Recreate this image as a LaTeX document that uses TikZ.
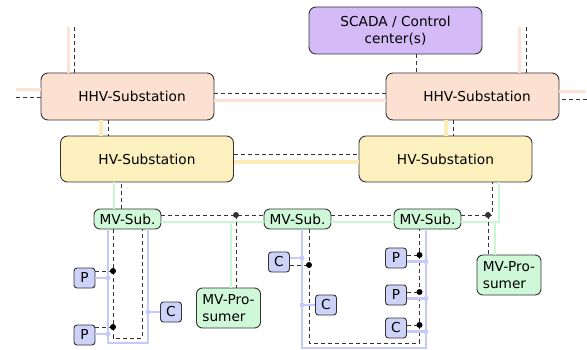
\documentclass[tikz,border=0pt]{standalone}
\usepackage{fontspec}
\setmainfont{DejaVu Sans}
\usepackage{xcolor}
\usepackage{tikz}
\usetikzlibrary{
  arrows.meta,
  positioning,
  calc
}

\definecolor{hhvfill}{HTML}{FCE1D2}
\definecolor{hvfill}{HTML}{FBF0BE}
\definecolor{mvfill}{HTML}{CFF8D8}
\definecolor{scadafill}{HTML}{D4BBF8}
\definecolor{pcfill}{HTML}{CDD3F8}
\definecolor{hhvline}{HTML}{FCE3D4}
\definecolor{hvline}{HTML}{FBEDB5}
\definecolor{mvline}{HTML}{C8F7D4}
\definecolor{lvline}{HTML}{C5CAF8}
\definecolor{edge}{HTML}{333333}

\tikzset{
  box/.style={draw=edge, line width=0.9pt, inner sep=0pt, align=center,
    font=\fontsize{13.7}{16.5}\selectfont},
  hhvbox/.style={box, fill=hhvfill, rounded corners=7pt, minimum width=173pt, minimum height=47pt},
  hvbox/.style={box, fill=hvfill, rounded corners=7pt, minimum width=173pt, minimum height=46pt},
  scadabox/.style={box, fill=scadafill, rounded corners=7pt, minimum width=173pt, minimum height=47pt},
  mvbox/.style={box, fill=mvfill, rounded corners=6pt, minimum width=67pt, minimum height=20pt},
  probox/.style={box, fill=mvfill, rounded corners=6pt, align=left, minimum width=64pt, minimum height=40pt},
  lvbox/.style={box, fill=pcfill, rounded corners=3pt, minimum width=21pt, minimum height=20pt},
  comm/.style={draw=edge, line width=0.8pt, dash pattern=on 4pt off 3pt},
  hhvpow/.style={draw=hhvline, line width=3pt},
  hvpow/.style={draw=hvline, line width=3.2pt},
  mvpow/.style={draw=mvline, line width=2.4pt},
  lvpow/.style={draw=lvline, line width=2.4pt},
  jdot/.style={circle, fill=black, inner sep=0pt, minimum size=6pt},
  ldot/.style={circle, fill=lvline, inner sep=0pt, minimum size=5pt}
}

\begin{document}
\begin{tikzpicture}[x=1pt,y=-1pt]
\useasboundingbox (0,0) rectangle (587,350);

% substations and control centre
\node[scadabox] (scada) at (395.5,30.5) {SCADA / Control\\center(s)};
\node[hhvbox] (hhvL) at (127.5,96.5) {\hspace*{9pt}HHV-Substation};
\node[hhvbox] (hhvR) at (472.5,96.5) {\hspace*{9pt}HHV-Substation};
\node[hvbox] (hvL) at (147,159) {HV-Substation};
\node[hvbox] (hvR) at (445.5,159) {HV-Substation};
\node[mvbox] (mv1) at (127.5,219) {MV-Sub.};
\node[mvbox] (mv2) at (297.5,219) {MV-Sub.};
\node[mvbox] (mv3) at (427.5,219) {MV-Sub.};
\node[probox] (proL) at (228.5,308) {MV-Pro-\\sumer};
\node[probox] (proR) at (509,275) {MV-Pro-\\sumer};

% producers and consumers
\node[lvbox] (pa) at (84.5,278) {P};
\node[lvbox] (pb) at (84.5,335) {P};
\node[lvbox] (ca) at (171,312) {C};
\node[lvbox] (cb) at (279,262) {C};
\node[lvbox] (cc) at (326,305) {C};
\node[lvbox] (pc) at (396,258) {P};
\node[lvbox] (pd) at (396,295) {P};
\node[lvbox] (cd) at (396,328) {C};

% free ends and corners
\coordinate (nwA) at (68,27);
\coordinate (nwB) at (74,27);
\coordinate (neA) at (519,27);
\coordinate (neB) at (526,27);
\coordinate (wA) at (16,90);
\coordinate (wB) at (16,97);
\coordinate (eA) at (586,92);
\coordinate (eB) at (587,99);
\coordinate (j1) at (236,215);
\coordinate (j2) at (488,215);
\coordinate (lvLa) at (108,343);
\coordinate (lvLb) at (148,343);
\coordinate (dlLa) at (113,338);
\coordinate (dlLb) at (142,338);
\coordinate (lvMa) at (302,348);
\coordinate (lvMb) at (426,348);
\coordinate (dlMa) at (309,343);
\coordinate (dlMb) at (419.5,343);

% HHV level
\draw[hhvpow] (nwA) -- (nwA |- hhvL.north);
\draw[comm] (nwB) -- (nwB |- hhvL.north);
\draw[hhvpow] (neA) -- (neA |- hhvR.north);
\draw[comm] (neB) -- (neB |- hhvR.north);
\draw[hhvpow] (wA) -- (wA -| hhvL.west);
\draw[comm] (wB) -- (wB -| hhvL.west);
\draw[hhvpow] (eA) -- (eA -| hhvR.east);
\draw[comm] (eB) -- (eB -| hhvR.east);
\draw[comm] ([yshift=3.5pt]hhvL.east) -- ([yshift=3.5pt]hhvR.west);
\draw[hhvpow] ([yshift=-4.5pt]hhvL.east) -- ([yshift=-4.5pt]hhvR.west);
\draw[comm] ([xshift=20.5pt]scada.south) -- ([xshift=20.5pt]scada.south |- hhvR.north);

% HV level
\foreach \a/\b in {hhvL/hvL, hhvR/hvR} {
  \draw[hvpow] ([xshift=-26.5pt]\a.south) -- ([xshift=-26.5pt]\a.south |- \b.north);
  \draw[comm] ([xshift=-19.5pt]\a.south) -- ([xshift=-19.5pt]\a.south |- \b.north);
}
\draw[comm] ([yshift=5pt]hvL.east) -- ([yshift=5pt]hvR.west);
\draw[hvpow] ([yshift=-3pt]hvL.east) -- ([yshift=-3pt]hvR.west);

% MV level
\draw[mvpow] ([xshift=-13.5pt]mv1.north) -- ([xshift=-13.5pt]mv1.north |- hvL.south);
\draw[comm] ([xshift=-6.5pt]mv1.north) -- ([xshift=-6.5pt]mv1.north |- hvL.south);
\foreach \a/\b in {mv1/mv2, mv2/mv3} {
  \draw[comm] ([yshift=4pt]\a.east) -- ([yshift=4pt]\b.west);
  \draw[mvpow] ([yshift=-3pt]\a.east) -- ([yshift=-3pt]\b.west);
}
\draw[comm] ([yshift=4pt]mv3.east) -- (j2);
\draw[comm] (j2) -| ([xshift=46.5pt]hvR.south);
\draw[mvpow] ([yshift=-3pt]mv3.east) -| ([xshift=53.5pt]hvR.south);
\draw[mvpow] ([xshift=2.5pt]proL.north) |- ([yshift=-3pt]mv1.east);
\draw[comm] (j1) -- (j1 |- proL.north);
\draw[mvpow] ([xshift=-14pt]proR.north) |- ([yshift=-3pt]mv3.east);
\draw[comm] (j2) -- (j2 |- proR.north);
\fill[edge] (j1) circle (3pt);
\fill[edge] (j2) circle (3pt);

% LV feeders
\draw[lvpow] ([xshift=-19.5pt]mv1.south) |- (lvLb) -- (lvLb |- mv1.south);
\draw[comm] ([xshift=-14.5pt]mv1.south) |- (dlLb) -- (dlLb |- mv1.south);
\draw[lvpow] ([xshift=4.5pt]mv2.south) |- (lvMb) -- (lvMb |- mv3.south);
\draw[comm] ([xshift=11.5pt]mv2.south) |- (dlMb) -- (dlMb |- mv3.south);

\draw[lvpow] (pa.east) -- (pa.east -| lvLa) node[ldot] {};
\draw[comm] ([yshift=7pt]pa.east) -- ([yshift=7pt]pa.east -| dlLa) node[jdot] {};
\draw[lvpow] ([yshift=1pt]pb.east) -- ([yshift=1pt]pb.east -| lvLa) node[ldot] {};
\draw[comm] ([yshift=8pt]pb.east) -- ([yshift=8pt]pb.east -| dlLa) node[jdot] {};
\draw[lvpow] (ca.west) -- (ca.west -| lvLb) node[ldot] {};

\draw[lvpow] ([yshift=4pt]cb.east) -- ([yshift=4pt]cb.east -| lvMa) node[ldot] {};
\draw[comm] ([yshift=-3pt]cb.east) -- ([yshift=-3pt]cb.east -| dlMa) node[jdot] {};
\draw[lvpow] (cc.west) -- (cc.west -| lvMa) node[ldot] {};
\foreach \n in {pc,pd,cd} {
  \draw[lvpow] ([yshift=-3.5pt]\n.east) -- ([yshift=-3.5pt]\n.east -| lvMb) node[ldot] {};
  \draw[comm] ([yshift=3pt]\n.east) -- ([yshift=3pt]\n.east -| dlMb) node[jdot] {};
}

\end{tikzpicture}
\end{document}
